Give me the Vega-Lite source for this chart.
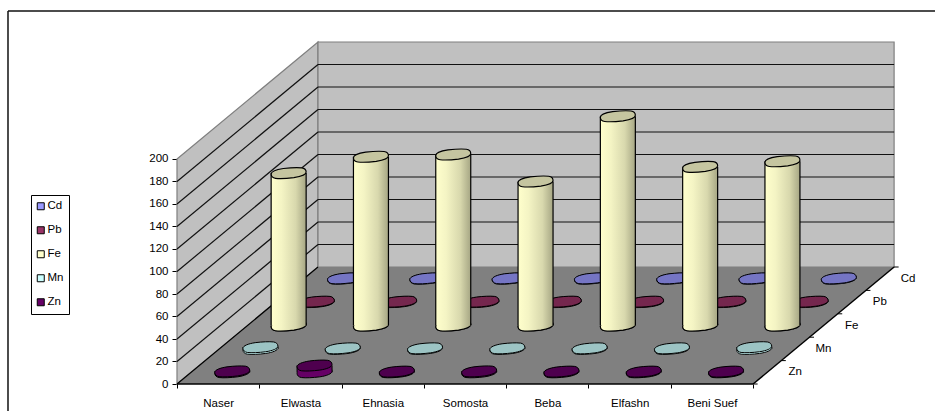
{
  "$schema": "https://vega.github.io/schema/vega-lite/v6.json",
  "width": 935,
  "height": 411,
  "padding": 0,
  "autosize": {"type": "none"},
  "background": "white",
  "view": {"stroke": null},
  "config": {"font": "Liberation Sans"},
  "datasets": {
    "readings": [
      {"site": "Naser", "metal": "Cd", "value": 0.3}, {"site": "Naser", "metal": "Pb", "value": 0.4}, {"site": "Naser", "metal": "Fe", "value": 135.5}, {"site": "Naser", "metal": "Mn", "value": 1.5}, {"site": "Naser", "metal": "Zn", "value": 0.8},
      {"site": "Elwasta", "metal": "Cd", "value": 0.3}, {"site": "Elwasta", "metal": "Pb", "value": 0.4}, {"site": "Elwasta", "metal": "Fe", "value": 150}, {"site": "Elwasta", "metal": "Mn", "value": 0.5}, {"site": "Elwasta", "metal": "Zn", "value": 6},
      {"site": "Ehnasia", "metal": "Cd", "value": 0.3}, {"site": "Ehnasia", "metal": "Pb", "value": 0.4}, {"site": "Ehnasia", "metal": "Fe", "value": 152}, {"site": "Ehnasia", "metal": "Mn", "value": 0.5}, {"site": "Ehnasia", "metal": "Zn", "value": 0.6},
      {"site": "Somosta", "metal": "Cd", "value": 0.3}, {"site": "Somosta", "metal": "Pb", "value": 0.4}, {"site": "Somosta", "metal": "Fe", "value": 128}, {"site": "Somosta", "metal": "Mn", "value": 0.5}, {"site": "Somosta", "metal": "Zn", "value": 0.8},
      {"site": "Beba", "metal": "Cd", "value": 0.3}, {"site": "Beba", "metal": "Pb", "value": 0.4}, {"site": "Beba", "metal": "Fe", "value": 186}, {"site": "Beba", "metal": "Mn", "value": 0.5}, {"site": "Beba", "metal": "Zn", "value": 0.6},
      {"site": "Elfashn", "metal": "Cd", "value": 0.3}, {"site": "Elfashn", "metal": "Pb", "value": 0.4}, {"site": "Elfashn", "metal": "Fe", "value": 141}, {"site": "Elfashn", "metal": "Mn", "value": 0.5}, {"site": "Elfashn", "metal": "Zn", "value": 0.6},
      {"site": "Beni Suef", "metal": "Cd", "value": 0.3}, {"site": "Beni Suef", "metal": "Pb", "value": 0.4}, {"site": "Beni Suef", "metal": "Fe", "value": 146}, {"site": "Beni Suef", "metal": "Mn", "value": 1.5}, {"site": "Beni Suef", "metal": "Zn", "value": 0.6}
    ],
    "grid": [{"v": 20}, {"v": 40}, {"v": 60}, {"v": 80}, {"v": 100}, {"v": 120}, {"v": 140}, {"v": 160}, {"v": 180}],
    "depthEnds": [{"d": 0}, {"d": 5}],
    "depthTicks": [{"d": 0}, {"d": 1}, {"d": 2}, {"d": 3}, {"d": 4}, {"d": 5}],
    "depthLabels": [{"metal": "Zn", "d": 0.5}, {"metal": "Mn", "d": 1.5}, {"metal": "Fe", "d": 2.5}, {"metal": "Pb", "d": 3.5}, {"metal": "Cd", "d": 4.5}],
    "widthEnds": [{"a": 0}, {"a": 7}],
    "frameTop": [{"from": -2.0535, "to": 9.2102, "level": 331.5}],
    "frameLeft": [{"from": -24, "to": 331.5, "at": -2.0535}]
  },
  "data": {"name": "readings"},
  "transform": [
    {"calculate": "indexof(['Naser','Elwasta','Ehnasia','Somosta','Beba','Elfashn','Beni Suef'], datum.site) + 0.5", "as": "a"},
    {"calculate": "indexof(['Zn','Mn','Fe','Pb','Cd'], datum.metal) + 0.5", "as": "d"},
    {"calculate": "datum.a + datum.d * 0.34265", "as": "px"},
    {"calculate": "datum.px - 0.2126", "as": "xl"},
    {"calculate": "datum.px + 0.2126", "as": "xr"},
    {"calculate": "datum.d * 20.8", "as": "base"},
    {"calculate": "datum.base + datum.value", "as": "py"}
  ],
  "encoding": {
    "x": {
      "field": "px", "type": "quantitative",
      "scale": {"domain": [-2.15067, 9.21021], "nice": false, "zero": false},
      "axis": {
        "title": null, "orient": "bottom", "offset": -27, "grid": false, "domain": false,
        "values": [0, 0.5, 1, 1.5, 2, 2.5, 3, 3.5, 4, 4.5, 5, 5.5, 6, 6.5, 7],
        "labelExpr": "datum.value % 1 === 0 ? '' : ['Naser','Elwasta','Ehnasia','Somosta','Beba','Elfashn','Beni Suef'][floor(datum.value)]",
        "tickOpacity": {"condition": {"test": "datum.value % 1 === 0", "value": 1}, "value": 0},
        "tickColor": "black", "tickSize": 4, "labelPadding": 9, "labelColor": "black", "labelFontSize": 11.5, "labelFont": "Liberation Sans",
        "labelOverlap": false, "labelFlush": false, "labelBound": false
      }
    },
    "y": {
      "field": "py", "type": "quantitative",
      "scale": {"domain": [-24, 341.3333], "nice": false, "zero": false},
      "axis": {
        "title": null, "orient": "left", "offset": -177, "grid": false, "domain": false,
        "values": [0, 20, 40, 60, 80, 100, 120, 140, 160, 180, 200],
        "tickColor": "black", "tickSize": 5, "labelPadding": 4, "labelColor": "black", "labelFontSize": 11.5, "labelFont": "Liberation Sans",
        "labelOverlap": false, "labelBound": false
      }
    }
  },
  "layer": [
    {
      "data": {"name": "frameTop"},
      "transform": [{"calculate": "datum.from", "as": "px"}, {"calculate": "datum.level", "as": "py"}],
      "mark": {"type": "rule", "color": "#111", "strokeWidth": 1.5},
      "encoding": {"x2": {"field": "to"}}
    },
    {
      "data": {"name": "frameLeft"},
      "transform": [{"calculate": "datum.at", "as": "px"}, {"calculate": "datum.from", "as": "py"}],
      "mark": {"type": "rule", "color": "#111", "strokeWidth": 1.5},
      "encoding": {"y2": {"field": "to"}}
    },
    {
      "data": {"name": "depthEnds"},
      "transform": [
        {"calculate": "datum.d * 0.34265", "as": "px"},
        {"calculate": "datum.d * 20.8 + 200", "as": "py"},
        {"calculate": "datum.d * 20.8", "as": "low"}
      ],
      "mark": {"type": "area", "fill": "#c0c0c0", "stroke": "#7f7f7f", "strokeWidth": 1.2, "orient": "vertical"},
      "encoding": {"y2": {"field": "low"}}
    },
    {
      "data": {"name": "widthEnds"},
      "transform": [
        {"calculate": "datum.a + 5 * 0.34265", "as": "px"},
        {"calculate": "304", "as": "py"},
        {"calculate": "104", "as": "low"}
      ],
      "mark": {"type": "area", "fill": "#c0c0c0", "stroke": "#7f7f7f", "strokeWidth": 1.2, "orient": "vertical"},
      "encoding": {"y2": {"field": "low"}}
    },
    {
      "data": {"name": "depthEnds"},
      "transform": [
        {"calculate": "datum.d * 0.34265", "as": "px"},
        {"calculate": "datum.d * 0.34265 + 7", "as": "far"},
        {"calculate": "datum.d * 20.8", "as": "py"}
      ],
      "mark": {"type": "area", "fill": "#808080", "orient": "horizontal"},
      "encoding": {"x2": {"field": "far"}}
    },
    {
      "data": {"name": "grid"},
      "transform": [
        {"calculate": "5 * 0.34265", "as": "px"},
        {"calculate": "7 + 5 * 0.34265", "as": "far"},
        {"calculate": "datum.v + 104", "as": "py"}
      ],
      "mark": {"type": "rule", "color": "#111", "strokeWidth": 1.2},
      "encoding": {"x2": {"field": "far"}}
    },
    {
      "data": {"name": "grid"},
      "transform": [
        {"calculate": "0", "as": "px"},
        {"calculate": "5 * 0.34265", "as": "far"},
        {"calculate": "datum.v", "as": "py"},
        {"calculate": "datum.v + 104", "as": "up"}
      ],
      "mark": {"type": "rule", "color": "#111", "strokeWidth": 1.2},
      "encoding": {"x2": {"field": "far"}, "y2": {"field": "up"}}
    },
    {
      "data": {"name": "depthEnds"},
      "transform": [
        {"filter": "datum.d === 0"},
        {"calculate": "0", "as": "px"},
        {"calculate": "7", "as": "far"},
        {"calculate": "0", "as": "py"}
      ],
      "mark": {"type": "rule", "color": "black", "strokeWidth": 1.5},
      "encoding": {"x2": {"field": "far"}}
    },
    {
      "data": {"name": "depthEnds"},
      "transform": [
        {"filter": "datum.d === 0"},
        {"calculate": "0", "as": "px"},
        {"calculate": "5 * 0.34265", "as": "far"},
        {"calculate": "0", "as": "py"},
        {"calculate": "104", "as": "up"}
      ],
      "mark": {"type": "rule", "color": "black", "strokeWidth": 1.2},
      "encoding": {"x2": {"field": "far"}, "y2": {"field": "up"}}
    },
    {
      "data": {"name": "depthEnds"},
      "transform": [
        {"filter": "datum.d === 0"},
        {"calculate": "7", "as": "px"},
        {"calculate": "7 + 5 * 0.34265", "as": "far"},
        {"calculate": "0", "as": "py"},
        {"calculate": "104", "as": "up"}
      ],
      "mark": {"type": "rule", "color": "black", "strokeWidth": 1.5},
      "encoding": {"x2": {"field": "far"}, "y2": {"field": "up"}}
    },
    {
      "data": {"name": "depthTicks"},
      "transform": [
        {"calculate": "7 + datum.d * 0.34265", "as": "px"},
        {"calculate": "datum.px + 0.055", "as": "far"},
        {"calculate": "datum.d * 20.8", "as": "py"}
      ],
      "mark": {"type": "rule", "color": "black", "strokeWidth": 1},
      "encoding": {"x2": {"field": "far"}}
    },
    {
      "data": {"name": "depthLabels"},
      "transform": [
        {"calculate": "7 + datum.d * 0.34265", "as": "px"},
        {"calculate": "datum.d * 20.8", "as": "py"}
      ],
      "mark": {"type": "text", "dx": 28, "align": "center", "baseline": "middle", "fontSize": 11.5, "font": "Liberation Sans", "color": "black"},
      "encoding": {"text": {"field": "metal"}}
    },
    {
      "mark": {"type": "point", "shape": "M-1,0.06 C-1,-0.08 -0.7,-0.2 -0.3,-0.26 C0.1,-0.31 0.5,-0.33 0.75,-0.3 C0.9,-0.28 1,-0.18 1,-0.06 C1,0.08 0.7,0.2 0.3,0.26 C-0.1,0.31 -0.5,0.33 -0.75,0.3 C-0.9,0.28 -1,0.18 -1,0.06 Z", "filled": true, "size": 1225, "stroke": "black", "strokeWidth": 1, "opacity": 1},
      "encoding": {
        "y": {"field": "base", "type": "quantitative"},
        "fill": {
          "field": "metal", "type": "nominal",
          "scale": {"domain": ["Cd", "Pb", "Fe", "Mn", "Zn"], "range": ["#9999ff", "#993366", "#ffffcc", "#ccffff", "#660066"]},
          "legend": {
            "title": null, "orient": "none", "legendX": 31, "legendY": 195, "symbolType": "square", "symbolSize": 49,
            "symbolStrokeColor": "black", "symbolStrokeWidth": 1, "symbolOpacity": 1, "symbolOffset": -1.5,
            "strokeColor": "black", "fillColor": "white", "padding": 5.5, "rowPadding": 11,
            "labelFont": "Liberation Sans", "labelFontSize": 11.5, "labelColor": "black", "labelOffset": 1
          }
        }
      }
    },
    {
      "transform": [{"filter": "datum.metal !== 'Fe'"}],
      "mark": {"type": "rect", "opacity": 1},
      "encoding": {
        "x": {"field": "xl", "type": "quantitative"},
        "x2": {"field": "xr"},
        "y2": {"field": "base"},
        "fill": {"field": "metal", "type": "nominal", "legend": null}
      }
    },
    {
      "transform": [{"filter": "datum.metal !== 'Fe'"}],
      "mark": {"type": "rule", "color": "black", "strokeWidth": 1},
      "encoding": {"x": {"field": "xl", "type": "quantitative"}, "y2": {"field": "base"}}
    },
    {
      "transform": [{"filter": "datum.metal !== 'Fe'"}],
      "mark": {"type": "rule", "color": "black", "strokeWidth": 1},
      "encoding": {"x": {"field": "xr", "type": "quantitative"}, "y2": {"field": "base"}}
    },
    {
      "transform": [{"filter": "datum.metal !== 'Fe'"}],
      "mark": {"type": "point", "shape": "M-1,0.06 C-1,-0.08 -0.7,-0.2 -0.3,-0.26 C0.1,-0.31 0.5,-0.33 0.75,-0.3 C0.9,-0.28 1,-0.18 1,-0.06 C1,0.08 0.7,0.2 0.3,0.26 C-0.1,0.31 -0.5,0.33 -0.75,0.3 C-0.9,0.28 -1,0.18 -1,0.06 Z", "filled": true, "size": 1225, "stroke": "black", "strokeWidth": 1, "opacity": 1},
      "encoding": {"fill": {"field": "metal", "type": "nominal", "legend": null}}
    },
    {
      "transform": [{"filter": "datum.metal !== 'Fe'"}],
      "mark": {"type": "point", "shape": "M-1,0.06 C-1,-0.08 -0.7,-0.2 -0.3,-0.26 C0.1,-0.31 0.5,-0.33 0.75,-0.3 C0.9,-0.28 1,-0.18 1,-0.06 C1,0.08 0.7,0.2 0.3,0.26 C-0.1,0.31 -0.5,0.33 -0.75,0.3 C-0.9,0.28 -1,0.18 -1,0.06 Z", "filled": true, "size": 1225, "fill": "black", "fillOpacity": 0.23, "strokeOpacity": 0}
    },
    {
      "transform": [{"filter": "datum.metal === 'Fe'"}],
      "mark": {"type": "point", "shape": "M-1,0.06 C-1,-0.08 -0.7,-0.2 -0.3,-0.26 C0.1,-0.31 0.5,-0.33 0.75,-0.3 C0.9,-0.28 1,-0.18 1,-0.06 C1,0.08 0.7,0.2 0.3,0.26 C-0.1,0.31 -0.5,0.33 -0.75,0.3 C-0.9,0.28 -1,0.18 -1,0.06 Z", "filled": true, "size": 1225, "stroke": "black", "strokeWidth": 1.2, "opacity": 1,
        "fill": {"gradient": "linear", "x1": 0, "x2": 1, "y1": 0, "y2": 0, "stops": [{"offset": 0, "color": "#ffffcc"}, {"offset": 0.3, "color": "#f4f4c4"}, {"offset": 0.7, "color": "#d8d8ad"}, {"offset": 1, "color": "#a6a684"}]}},
      "encoding": {"y": {"field": "base", "type": "quantitative"}}
    },
    {
      "transform": [{"filter": "datum.metal === 'Fe'"}],
      "mark": {"type": "rect", "opacity": 1,
        "fill": {"gradient": "linear", "x1": 0, "x2": 1, "y1": 0, "y2": 0, "stops": [{"offset": 0, "color": "#ffffcc"}, {"offset": 0.3, "color": "#f4f4c4"}, {"offset": 0.7, "color": "#d8d8ad"}, {"offset": 1, "color": "#a6a684"}]}},
      "encoding": {"x": {"field": "xl", "type": "quantitative"}, "x2": {"field": "xr"}, "y2": {"field": "base"}}
    },
    {
      "transform": [{"filter": "datum.metal === 'Fe'"}],
      "mark": {"type": "rule", "color": "black", "strokeWidth": 1.2},
      "encoding": {"x": {"field": "xl", "type": "quantitative"}, "y2": {"field": "base"}}
    },
    {
      "transform": [{"filter": "datum.metal === 'Fe'"}],
      "mark": {"type": "rule", "color": "black", "strokeWidth": 1.2},
      "encoding": {"x": {"field": "xr", "type": "quantitative"}, "y2": {"field": "base"}}
    },
    {
      "transform": [{"filter": "datum.metal === 'Fe'"}],
      "mark": {"type": "point", "shape": "M-1,0.06 C-1,-0.08 -0.7,-0.2 -0.3,-0.26 C0.1,-0.31 0.5,-0.33 0.75,-0.3 C0.9,-0.28 1,-0.18 1,-0.06 C1,0.08 0.7,0.2 0.3,0.26 C-0.1,0.31 -0.5,0.33 -0.75,0.3 C-0.9,0.28 -1,0.18 -1,0.06 Z", "filled": true, "size": 1225, "fill": "#c5c5a0", "stroke": "black", "strokeWidth": 1.2, "opacity": 1}
    }
  ]
}
